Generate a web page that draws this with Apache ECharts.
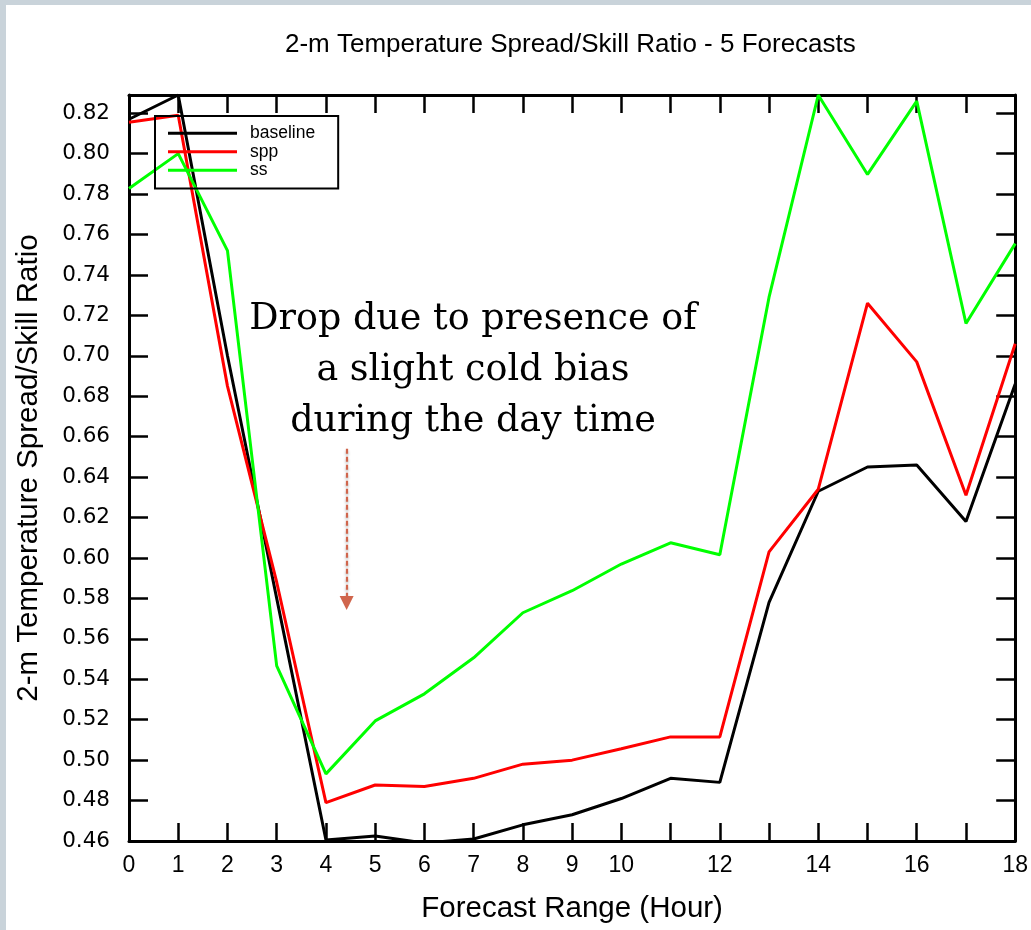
<!DOCTYPE html>
<html>
<head>
<meta charset="utf-8">
<script src="https://cdn.jsdelivr.net/npm/echarts@6/dist/echarts.min.js"></script>
<style>
  html, body { margin: 0; padding: 0; background: #ffffff; }
  #chart { width: 1031px; height: 930px; }
</style>
</head>
<body>
<div id="chart"></div>
<script>
// ---- data ----
const hours = [0, 1, 2, 3, 4, 5, 6, 7, 8, 9, 10, 11, 12, 13, 14, 15, 16, 17, 18];
const baseline = [0.817, 0.829, 0.700, 0.580, 0.4605, 0.4625, 0.459, 0.461, 0.468, 0.473, 0.481, 0.491, 0.489, 0.578, 0.633, 0.645, 0.646, 0.618, 0.686];
const spp = [0.8155, 0.819, 0.685, 0.588, 0.479, 0.4877, 0.487, 0.491, 0.498, 0.500, 0.5056, 0.5115, 0.5115, 0.603, 0.634, 0.726, 0.697, 0.631, 0.706];
const ss = [0.7828, 0.800, 0.752, 0.5466, 0.4932, 0.5194, 0.5328, 0.5506, 0.5729, 0.5838, 0.597, 0.6075, 0.6016, 0.729, 0.829, 0.7897, 0.826, 0.716, 0.7555];
const seriesNames = ['baseline', 'spp', 'ss'];
const xLabelHours = [0, 1, 2, 3, 4, 5, 6, 7, 8, 9, 10, 12, 14, 16, 18];
const titleText = '2-m Temperature Spread/Skill Ratio - 5 Forecasts';
const xName = 'Forecast Range (Hour)';
const yName = '2-m Temperature Spread/Skill Ratio';
const noteText = 'Drop due to presence of\na slight cold bias\nduring the day time';
const arrowFrom = [4.42, 0.654];
const arrowTo = [4.42, 0.5777];

const pair = (ys) => hours.map((h, i) => [h, ys[i]]);
const FONT = '"Liberation Sans", Arial, sans-serif';

const chart = echarts.init(document.getElementById('chart'), null, { renderer: 'canvas' });

const axisLineStyle = { color: '#000', width: 3 };
const tickStyle = { color: '#000', width: 2.5 };

const option = {
  backgroundColor: '#ffffff',
  animation: false,
  title: {
    text: titleText,
    left: 285,
    top: 32,
    padding: 0,
    textStyle: { fontFamily: FONT, fontSize: 26, fontWeight: 'normal', color: '#000' }
  },
  graphic: [
    { type: 'rect', shape: { x: 0, y: 0, width: 1031, height: 5 }, style: { fill: '#c9d3da' }, silent: true },
    { type: 'rect', shape: { x: 0, y: 0, width: 6, height: 930 }, style: { fill: '#c9d3da' }, silent: true },
    {
      type: 'text',
      x: 473, y: 294,
      silent: true,
      style: {
        text: noteText,
        fontFamily: '"DejaVu Serif", Georgia, serif',
        fontSize: 36.5,
        lineHeight: 51,
        fill: '#000',
        align: 'center',
        verticalAlign: 'top'
      }
    }
  ],
  legend: {
    data: seriesNames,
    orient: 'vertical',
    left: 155,
    top: 116,
    padding: [8, 23, 9, 13],
    borderColor: '#000',
    borderWidth: 2,
    borderRadius: 0,
    itemWidth: 69,
    itemHeight: 3,
    itemGap: 0,
    icon: 'rect',
    textStyle: { fontFamily: FONT, fontSize: 17.5, lineHeight: 18.5, color: '#000', padding: [0, 0, 0, 8] }
  },
  grid: { left: 129, right: 15, top: 95, bottom: 89, containLabel: false },
  xAxis: [
    {
      type: 'value', min: 0, max: 18, interval: 1, position: 'bottom',
      name: xName, nameLocation: 'middle', nameGap: 53,
      nameTextStyle: { fontFamily: FONT, fontSize: 29.5, color: '#000' },
      axisLine: { show: true, onZero: false, lineStyle: axisLineStyle },
      axisTick: { show: true, inside: true, length: 18, lineStyle: tickStyle },
      axisLabel: {
        margin: 13, fontFamily: FONT, fontSize: 23, color: '#000',
        formatter: (v) => (xLabelHours.indexOf(v) >= 0 ? String(v) : '')
      },
      splitLine: { show: false }
    },
    {
      type: 'value', min: 0, max: 18, interval: 1, position: 'top',
      axisLine: { show: true, onZero: false, lineStyle: axisLineStyle },
      axisTick: { show: true, inside: true, length: 18, lineStyle: tickStyle },
      axisLabel: { show: false },
      splitLine: { show: false }
    }
  ],
  yAxis: [
    {
      type: 'value', min: 0.46, max: 0.829, interval: 0.02, position: 'left',
      name: yName, nameLocation: 'middle', nameGap: 85, nameRotate: 90,
      nameTextStyle: { fontFamily: FONT, fontSize: 29.5, color: '#000' },
      axisLine: { show: true, onZero: false, lineStyle: axisLineStyle },
      axisTick: { show: true, inside: true, length: 19, lineStyle: tickStyle },
      axisLabel: {
        margin: 19, fontFamily: '"DejaVu Sans", sans-serif', fontSize: 21.5, color: '#000',
        showMaxLabel: false,
        formatter: (v) => (Math.abs(v * 50 - Math.round(v * 50)) < 1e-6 ? v.toFixed(2) : '')
      },
      splitLine: { show: false }
    },
    {
      type: 'value', min: 0.46, max: 0.829, interval: 0.02, position: 'right',
      axisLine: { show: true, onZero: false, lineStyle: axisLineStyle },
      axisTick: { show: true, inside: true, length: 19, lineStyle: tickStyle },
      axisLabel: { show: false },
      splitLine: { show: false }
    }
  ],
  series: [
    {
      name: seriesNames[0], type: 'line', data: pair(baseline), symbol: 'none',
      color: '#000000', lineStyle: { color: '#000000', width: 3 }, z: 3,
      markLine: {
        silent: true,
        symbol: ['none', 'triangle'],
        symbolSize: [14, 14],
        label: { show: false },
        lineStyle: { color: '#d0654c', type: [5, 3], width: 2.2, shadowBlur: 3, shadowColor: 'rgba(0,0,0,0.3)', shadowOffsetY: 2 },
        itemStyle: { color: '#d0654c' },
        emphasis: { disabled: true },
        data: [[{ coord: arrowFrom }, { coord: arrowTo }]]
      }
    },
    {
      name: seriesNames[1], type: 'line', data: pair(spp), symbol: 'none',
      color: '#ff0000', lineStyle: { color: '#ff0000', width: 3 }, z: 3
    },
    {
      name: seriesNames[2], type: 'line', data: pair(ss), symbol: 'none',
      color: '#00ff00', lineStyle: { color: '#00ff00', width: 3 }, z: 3
    }
  ]
};

chart.setOption(option);
</script>
</body>
</html>
